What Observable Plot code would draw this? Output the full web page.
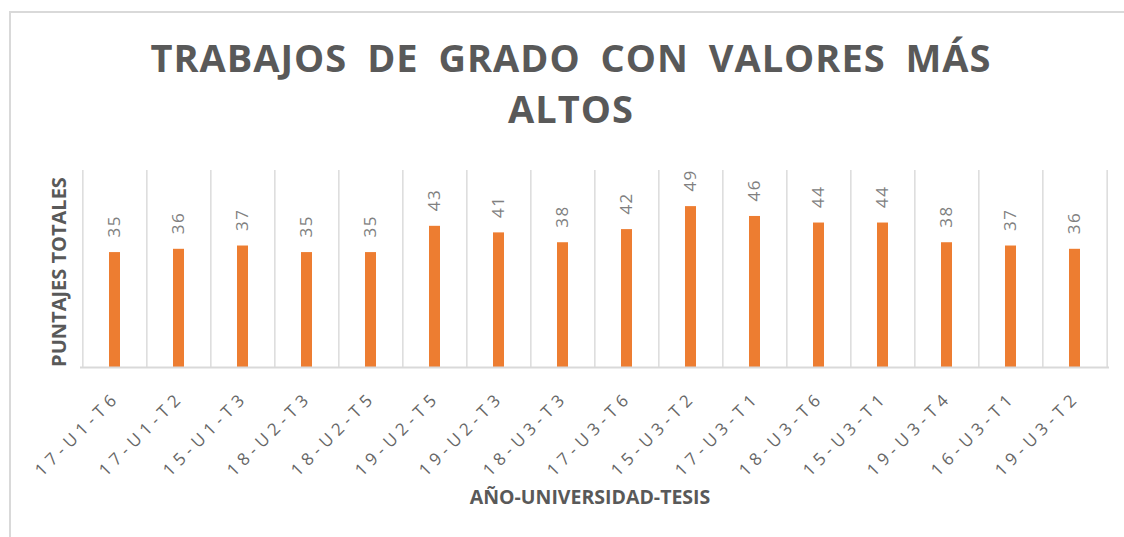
<!DOCTYPE html>
<html><head><meta charset="utf-8">
<script src="https://cdn.jsdelivr.net/npm/d3@7"></script>
<script src="https://cdn.jsdelivr.net/npm/@observablehq/plot@0.6"></script>
<style>
body{margin:0;background:#fff;}
#wrap{position:relative;width:1124px;height:537px;overflow:hidden;font-family:"Open Sans",sans-serif;background:#fff;}
#frame{position:absolute;left:9px;top:11px;width:1130px;height:540px;border-top:2px solid #d9d9d9;border-left:2px solid #d9d9d9;}
#title{position:absolute;left:0;width:1142px;top:32px;text-align:center;font-size:38px;line-height:51px;font-weight:700;color:#595959;letter-spacing:1px;word-spacing:9px;}
#ylab{position:absolute;left:57.5px;top:272px;transform:translate(-50%,-50%) rotate(-90deg);white-space:nowrap;font-size:20px;font-weight:700;color:#595959;}
#xlab{position:absolute;left:0;width:1180px;top:486px;text-align:center;font-size:19.5px;line-height:22px;font-weight:700;color:#595959;}
#chart{position:absolute;left:0;top:150px;}
.c g[aria-label="x-axis tick label"] text{letter-spacing:5px;}
.c g[aria-label="text"] text{letter-spacing:1.5px;}
</style>
</head><body>
<div id="wrap">
  <div id="frame"></div>
  <div id="title">TRABAJOS DE GRADO CON VALORES MÁS<br>ALTOS</div>
  <div id="ylab">PUNTAJES TOTALES</div>
  <div id="xlab">AÑO-UNIVERSIDAD-TESIS</div>
  <div id="chart"></div>
</div>
<script>
const categories = ["17-U1-T6","17-U1-T2","15-U1-T3","18-U2-T3","18-U2-T5","19-U2-T5","19-U2-T3","18-U3-T3","17-U3-T6","15-U3-T2","17-U3-T1","18-U3-T6","15-U3-T1","19-U3-T4","16-U3-T1","19-U3-T2"];
const values = [35,36,37,35,35,43,41,38,42,49,46,44,44,38,37,36];
const yDomain = [0, 60];

const data = categories.map((c, i) => ({cat: c, val: values[i]}));
const W = 1124, H = 387, mL = 80, mR = 15, mT = 20, mB = 170;
const step = (W - mL - mR) / categories.length;
const grid = "#d9d9d9";

const chart = Plot.plot({
  width: W, height: H,
  marginLeft: mL, marginRight: mR, marginTop: mT, marginBottom: mB,
  className: "c",
  style: {fontFamily: "'Open Sans', sans-serif", background: "transparent", overflow: "visible"},
  x: {domain: categories, paddingInner: 0.83, paddingOuter: 0.415, align: 0.5},
  y: {domain: yDomain, axis: null},
  marks: [
    Plot.ruleX(categories, {x: d => d, y1: yDomain[0], y2: yDomain[1], dx: -step / 2, stroke: grid, strokeWidth: 1.4}),
    Plot.ruleX(categories.slice(-1), {x: d => d, y1: yDomain[0], y2: yDomain[1], dx: step / 2, stroke: grid, strokeWidth: 1.4}),
    Plot.barY(data, {x: "cat", y: "val", fill: "#ED7D31"}),
    Plot.ruleY([0], {stroke: grid, strokeWidth: 2}),
    Plot.text(data, {x: "cat", y: "val", text: d => String(d.val), rotate: -90, textAnchor: "start", dy: -15, fontSize: 17, fill: "#808080"}),
    Plot.axisX({tickSize: 0, tickRotate: -45, tickPadding: 27, dx: 2, fontSize: 17, color: "#666666", label: null})
  ]
});
document.getElementById("chart").appendChild(chart);
</script>
</body></html>
